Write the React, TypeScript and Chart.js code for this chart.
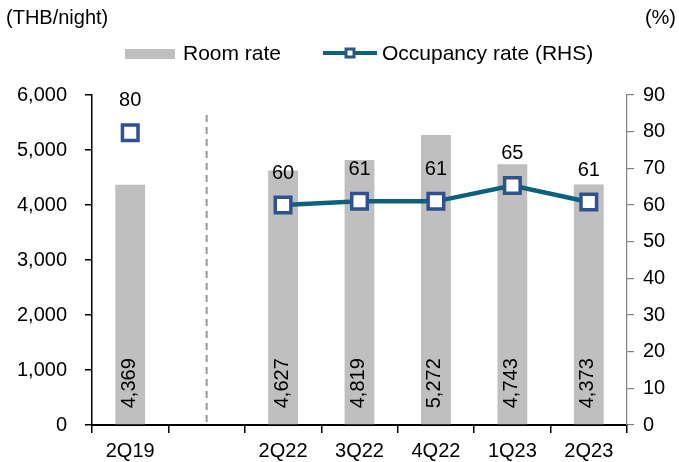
import { useEffect, useRef } from 'react';
import { Chart, registerables } from 'chart.js';

Chart.register(...registerables);

const categories = ['2Q19', '', '2Q22', '3Q22', '4Q22', '1Q23', '2Q23'];
const roomRate: (number | null)[] = [4369, null, 4627, 4819, 5272, 4743, 4373];
const occupancy: (number | null)[] = [79.7, null, 60.0, 61.0, 61.0, 65.3, 60.8];
const leftMin = 0;
const leftMax = 6000;
const leftStep = 1000;
const rightMin = 0;
const rightMax = 90;
const rightStep = 10;
const dividerIndex = 1;
const leftTitle = '(THB/night)';
const rightTitle = '(%)';
const barLegend = 'Room rate';
const lineLegend = 'Occupancy rate (RHS)';

const FONT = "'Liberation Sans', Arial, sans-serif";
const BAR_COLOR = '#BFBFBF';
const LINE_COLOR = '#0E617A';
const MARKER_BORDER = '#2F5190';

const fmt = (v: number) => v.toLocaleString('en-US');

const overlayPlugin = {
  id: 'overlay',
  beforeDatasetsDraw(chart: any) {
    const { ctx, chartArea, scales } = chart;
    const x = scales.x.getPixelForValue(dividerIndex);
    ctx.save();
    ctx.strokeStyle = '#9A9A9A';
    ctx.lineWidth = 2;
    ctx.setLineDash([7, 5]);
    ctx.beginPath();
    ctx.moveTo(x, chartArea.top + 20);
    ctx.lineTo(x, chartArea.bottom);
    ctx.stroke();
    ctx.restore();
  },
  afterDatasetsDraw(chart: any) {
    const { ctx } = chart;
    ctx.save();
    const barMeta = chart.getDatasetMeta(0);
    ctx.fillStyle = '#000';
    ctx.font = `20px ${FONT}`;
    barMeta.data.forEach((bar: any, i: number) => {
      const v = roomRate[i];
      if (v == null) return;
      ctx.save();
      ctx.translate(bar.x - 1, bar.base - 16);
      ctx.rotate(-Math.PI / 2);
      ctx.textAlign = 'left';
      ctx.textBaseline = 'middle';
      ctx.fillText(fmt(v), 0, 0);
      ctx.restore();
    });
    const lineMeta = chart.getDatasetMeta(1);
    ctx.font = `20px ${FONT}`;
    ctx.textAlign = 'center';
    ctx.textBaseline = 'middle';
    lineMeta.data.forEach((pt: any, i: number) => {
      const v = occupancy[i];
      if (v == null) return;
      ctx.fillText(String(Math.round(v)), pt.x, pt.y - 32);
    });
    ctx.restore();
  },
  afterDraw(chart: any) {
    const { ctx, width } = chart;
    ctx.save();
    ctx.fillStyle = '#000';
    ctx.font = `20px ${FONT}`;
    ctx.textBaseline = 'middle';
    ctx.textAlign = 'left';
    ctx.fillText(leftTitle, 6, 18);
    ctx.textAlign = 'right';
    ctx.fillText(rightTitle, width - 3, 18);

    const ly = 54;
    ctx.font = `21px ${FONT}`;
    ctx.textAlign = 'left';
    ctx.fillStyle = BAR_COLOR;
    ctx.fillRect(125, ly - 5, 50, 10);
    ctx.fillStyle = '#000';
    ctx.fillText(barLegend, 183, ly);

    ctx.strokeStyle = LINE_COLOR;
    ctx.lineWidth = 4;
    ctx.beginPath();
    ctx.moveTo(323, ly - 1);
    ctx.lineTo(377, ly - 1);
    ctx.stroke();
    ctx.fillStyle = '#fff';
    ctx.strokeStyle = MARKER_BORDER;
    ctx.lineWidth = 3;
    ctx.fillRect(346, ly - 5, 8, 8);
    ctx.strokeRect(346, ly - 5, 8, 8);
    ctx.fillStyle = '#000';
    ctx.fillText(lineLegend, 382, ly);
    ctx.restore();
  },
};

export default function App() {
  const canvasRef = useRef<HTMLCanvasElement | null>(null);

  useEffect(() => {
    if (!canvasRef.current) return;
    Chart.defaults.font.family = FONT;
    const chart = new Chart(canvasRef.current, {
      type: 'bar',
      data: {
        labels: categories,
        datasets: [
          {
            type: 'bar',
            label: barLegend,
            data: roomRate as any,
            backgroundColor: BAR_COLOR,
            barPercentage: 0.39,
            categoryPercentage: 1.0,
            yAxisID: 'y',
            order: 1,
          },
          {
            type: 'line',
            label: lineLegend,
            data: occupancy as any,
            yAxisID: 'y1',
            borderColor: LINE_COLOR,
            borderWidth: 4.5,
            pointStyle: 'rect',
            pointRadius: 11,
            pointHoverRadius: 11,
            pointBorderWidth: 3.5,
            pointBackgroundColor: '#FFFFFF',
            pointBorderColor: MARKER_BORDER,
            spanGaps: false,
            tension: 0,
            order: 0,
          } as any,
        ],
      },
      options: {
        responsive: true,
        maintainAspectRatio: false,
        animation: false,
        layout: { padding: { top: 95, left: 0, right: 0, bottom: 0 } },
        plugins: {
          legend: { display: false },
          tooltip: { enabled: false },
          title: { display: false },
        },
        scales: {
          x: {
            offset: true,
            grid: {
              display: true,
              drawOnChartArea: false,
              drawTicks: true,
              tickLength: 8,
              color: '#000',
              lineWidth: 1.5,
              offset: true,
            },
            border: { display: true, color: '#000', width: 2 },
            ticks: {
              color: '#000',
              font: { size: 20, family: FONT },
              padding: 6,
              maxRotation: 0,
              autoSkip: false,
            },
            afterFit: (s: any) => {
              s.height = 37;
            },
          },
          y: {
            position: 'left',
            min: leftMin,
            max: leftMax,
            grid: {
              display: true,
              drawOnChartArea: false,
              drawTicks: true,
              tickLength: 7,
              color: '#000',
              lineWidth: 1.5,
            },
            border: { display: true, color: '#000', width: 1.5 },
            ticks: {
              stepSize: leftStep,
              color: '#000',
              font: { size: 20, family: FONT },
              padding: 18,
              callback: (v: any) => fmt(Number(v)),
            },
            afterFit: (s: any) => {
              s.width = 92;
            },
          },
          y1: {
            position: 'right',
            min: rightMin,
            max: rightMax,
            grid: {
              display: true,
              drawOnChartArea: false,
              drawTicks: true,
              tickLength: 7,
              color: '#808080',
              lineWidth: 1.2,
            },
            border: { display: true, color: '#808080', width: 1.2 },
            ticks: {
              stepSize: rightStep,
              color: '#000',
              font: { size: 20, family: FONT },
              padding: 9,
            },
            afterFit: (s: any) => {
              s.width = 52;
            },
          },
        },
      },
      plugins: [overlayPlugin],
    });
    return () => chart.destroy();
  }, []);

  return (
    <div style={{ position: 'absolute', left: 0, top: 0, width: 679, height: 462 }}>
      <canvas ref={canvasRef} />
    </div>
  );
}
